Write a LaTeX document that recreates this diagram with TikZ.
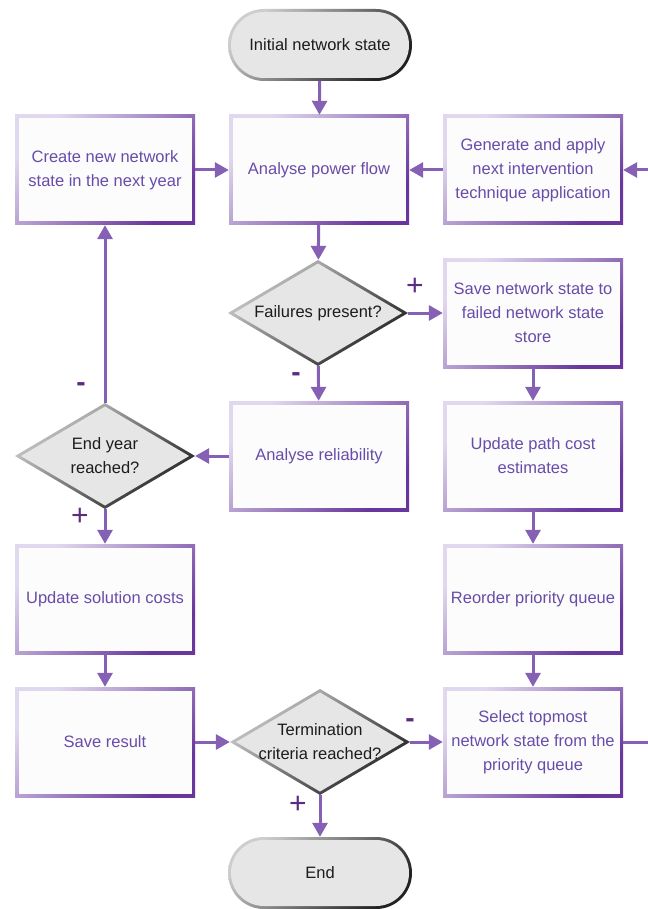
\documentclass[tikz,border=0pt]{standalone}
\usepackage{fontspec}
\setmainfont{Liberation Sans}
\usetikzlibrary{arrows.meta,shapes.misc}

\definecolor{boxlight}{RGB}{224,216,238}
\definecolor{boxdark}{RGB}{104,54,156}
\definecolor{boxfill}{RGB}{252,252,253}
\definecolor{boxtext}{RGB}{104,76,168}
\definecolor{greylight}{RGB}{205,205,205}
\definecolor{greydark}{RGB}{34,34,34}
\definecolor{greyfill}{RGB}{230,230,230}
\definecolor{greytext}{RGB}{28,28,28}
\definecolor{flowline}{RGB}{134,96,180}
\definecolor{signcol}{RGB}{92,44,130}

\newcommand{\flowfont}{\fontsize{16.5}{24}\selectfont}

\tikzset{
  procbox/.style={rectangle, minimum width=180pt, minimum height=110pt,
    inner sep=0pt, align=center, font=\flowfont, text=boxtext,
    path picture={
      \shade[top color=boxlight, bottom color=boxdark, shading angle=45]
        (path picture bounding box.south west) rectangle (path picture bounding box.north east);
      \fill[boxfill] ([shift={(3.5pt,3.5pt)}]path picture bounding box.south west)
        rectangle ([shift={(-3.5pt,-3.5pt)}]path picture bounding box.north east);
    }},
  % a diamond drawn inside a rectangular node; connectors meet its four corners
  decision/.style={rectangle, minimum width=180pt, minimum height=106pt,
    inner sep=0pt, align=center, font=\flowfont, text=greytext,
    path picture={
      \begin{scope}
        \clip (path picture bounding box.west) -- (path picture bounding box.north)
          -- (path picture bounding box.east) -- (path picture bounding box.south) -- cycle;
        \shade[top color=greylight, bottom color=greydark, shading angle=40]
          (path picture bounding box.south west) rectangle (path picture bounding box.north east);
      \end{scope}
      \fill[greyfill] ([xshift=5.9pt]path picture bounding box.west)
        -- ([yshift=-3.5pt]path picture bounding box.north)
        -- ([xshift=-5.9pt]path picture bounding box.east)
        -- ([yshift=3.5pt]path picture bounding box.south) -- cycle;
    }},
  terminal/.style={rounded rectangle, minimum width=184pt, minimum height=72pt,
    inner sep=0pt, align=center, font=\flowfont, text=greytext,
    path picture={
      \shade[top color=greylight, bottom color=greydark, shading angle=45]
        (path picture bounding box.south west) rectangle (path picture bounding box.north east);
      \fill[greyfill, rounded corners=32.9pt] ([shift={(3pt,3pt)}]path picture bounding box.south west)
        rectangle ([shift={(-3pt,-3pt)}]path picture bounding box.north east);
    }},
  flow/.style={draw=flowline, line width=3pt, -{Triangle[width=15pt,length=14pt]}},
  sign/.style={text=signcol, font=\fontsize{30}{30}\selectfont, inner sep=0pt},
  minus/.style={text=signcol, font=\fontsize{28}{28}\selectfont\bfseries, inner sep=0pt}
}

\begin{document}
\begin{tikzpicture}[x=1pt, y=-1pt]
  \fill[white] (0,0) rectangle (647,909);
  \useasboundingbox (0,0) rectangle (647,909);

  % terminals
  \node[terminal] (init) at (320,45) {Initial network state};
  \node[terminal] (end)  at (320,873) {End};

  % first row
  \node[procbox] (create) at (105,170) {Create new network\\state in the next year};
  \node[procbox] (apf)    at (319,170) {Analyse power flow};
  \node[procbox] (gen)    at (533,170) {Generate and apply\\next intervention\\technique application};

  % second row
  \node[decision] (fail)     at (318,313) {Failures present?};
  \node[procbox]  (savefail) at (533,313) {Save network state to\\failed network state\\store};

  % third row
  \node[decision] (endyear) at (105,456) {End year\\reached?};
  \node[procbox]  (rel)     at (319,456) {Analyse reliability};
  \node[procbox]  (pathcost) at (533,456) {Update path cost\\estimates};

  % fourth row
  \node[procbox] (solcost) at (105,599) {Update solution costs};
  \node[procbox] (reorder) at (533,599) {Reorder priority queue};

  % fifth row
  \node[procbox]  (saveres) at (105,742) {Save result};
  \node[decision] (term)    at (320,742) {Termination\\criteria reached?};
  \node[procbox]  (select)  at (533,742) {Select topmost\\network state from the\\priority queue};

  % return path running along the right edge
  \coordinate (loopedge) at (668,0);

  % connectors
  \draw[flow] (init) -- (apf);
  \draw[flow] (create) -- (apf);
  \draw[flow] (gen) -- (apf);
  \draw[flow] (select.east) -- (select.east -| loopedge) |- (gen.east);
  \draw[flow] (apf) -- (fail);
  \draw[flow] (fail) -- (savefail);
  \draw[flow] (fail) -- (rel);
  \draw[flow] (rel) -- (endyear);
  \draw[flow] (endyear) -- (create);
  \draw[flow] (endyear) -- (solcost);
  \draw[flow] (savefail) -- (pathcost);
  \draw[flow] (pathcost) -- (reorder);
  \draw[flow] (reorder) -- (select);
  \draw[flow] (solcost) -- (saveres);
  \draw[flow] (saveres) -- (term);
  \draw[flow] (term) -- (select);
  \draw[flow] (term) -- (end);

  % branch signs
  \node[sign]  (failyes) at (415,287) {+};
  \node[minus] (failno)  at (296,377) {-};
  \node[minus] (yearno)  at (81,387) {-};
  \node[sign]  (yearyes) at (80,517) {+};
  \node[minus] (termno)  at (410,723) {-};
  \node[sign]  (termyes) at (298,805) {+};
\end{tikzpicture}
\end{document}
